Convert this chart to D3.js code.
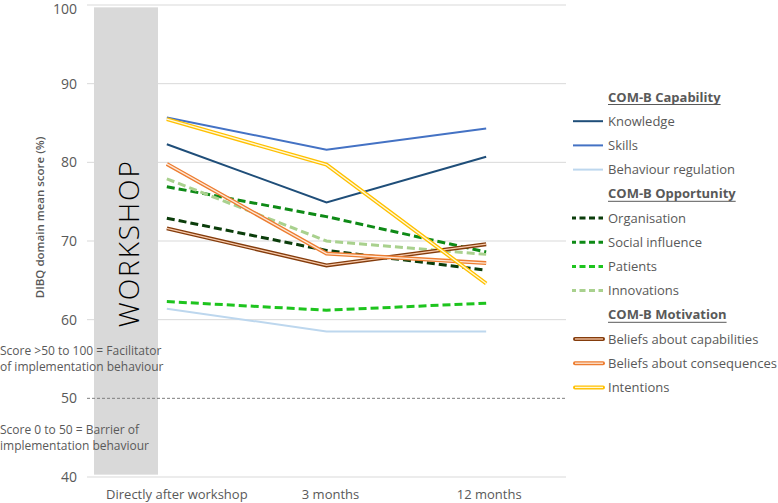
<!DOCTYPE html>
<html><head><meta charset="utf-8">
<script src="https://cdn.jsdelivr.net/npm/d3@7"></script>
<style>body{margin:0;background:#fff;} text{font-family:"Open Sans","Liberation Sans",sans-serif;}</style>
</head><body>
<svg id="chart" width="778" height="503"></svg>
<script>
const categories = ["Directly after workshop", "3 months", "12 months"];
const yTicks = [40, 50, 60, 70, 80, 90, 100];
const groupTitles = ["COM-B Capability", "COM-B Opportunity", "COM-B Motivation"];
const knowledge = [82.3, 74.9, 80.7];
const skills = [85.7, 81.6, 84.3];
const behaviourRegulation = [61.4, 58.5, 58.5];
const organisation = [72.9, 68.8, 66.3];
const socialInfluence = [76.9, 73.1, 68.6];
const patients = [62.3, 61.2, 62.1];
const innovations = [77.9, 70.0, 68.3];
const beliefsCapabilities = [71.6, 66.9, 69.6];
const beliefsConsequences = [79.8, 68.4, 67.2];
const intentions = [85.5, 79.7, 64.6];

(function () {
const series = [
  {group:0, name:"Knowledge", values:knowledge, color:"#1f4e79", type:"solid"},
  {group:0, name:"Skills", values:skills, color:"#4472c4", type:"solid"},
  {group:0, name:"Behaviour regulation", values:behaviourRegulation, color:"#bdd7ee", type:"solid"},
  {group:1, name:"Organisation", values:organisation, color:"#0b3d0b", type:"dash"},
  {group:1, name:"Social influence", values:socialInfluence, color:"#0e8a16", type:"dash"},
  {group:1, name:"Patients", values:patients, color:"#1ec41e", type:"dash"},
  {group:1, name:"Innovations", values:innovations, color:"#a9d18e", type:"dash"},
  {group:2, name:"Beliefs about capabilities", values:beliefsCapabilities, color:"#843c0c", inner:"#f8cbad", type:"double"},
  {group:2, name:"Beliefs about consequences", values:beliefsConsequences, color:"#ed7d31", inner:"#fde9d9", type:"double"},
  {group:2, name:"Intentions", values:intentions, color:"#ffc000", inner:"#fff8dc", type:"double"}
];

const svg = d3.select("#chart");
const pL = 87, pR = 566, pT = 5, pB = 477;
const x = d3.scaleBand().domain(categories).range([pL, pR]);
const y = d3.scaleLinear().domain([40, 100]).range([pB, pT]);
const grey = "#595959";

// gridlines
svg.append("g").selectAll("line").data(yTicks.filter(t => t !== 50)).join("line")
  .attr("x1", pL).attr("x2", pR).attr("y1", d => y(d)).attr("y2", d => y(d))
  .attr("stroke", "#d9d9d9").attr("stroke-width", 1);

// workshop box
svg.append("rect").attr("x", 94).attr("y", y(99.7)).attr("width", 64).attr("height", y(40.3) - y(99.7))
  .attr("fill", "#d9d9d9");
svg.append("text").attr("transform", `translate(138.5,${y(69.6)}) rotate(-90)`)
  .attr("text-anchor", "middle").attr("font-size", 28).attr("font-weight", 300).attr("fill", "#000")
  .attr("textLength", 166).attr("lengthAdjust", "spacing")
  .text("WORKSHOP");

// 50 reference line
svg.append("line").attr("x1", pL).attr("x2", pR).attr("y1", y(50)).attr("y2", y(50))
  .attr("stroke", "#7f7f7f").attr("stroke-width", 1).attr("stroke-dasharray", "3,2");

// y axis labels
const yAxis = d3.axisLeft(y).tickValues(yTicks).tickSize(0).tickPadding(10);
const ga = svg.append("g").attr("transform", `translate(${pL},0)`).call(yAxis);
ga.select(".domain").remove();
ga.selectAll("text").attr("font-size", 14).attr("fill", grey).attr("font-family", "'Open Sans',sans-serif")
  .attr("dy", d => d === 100 ? "0.62em" : "0.32em");

// x axis labels
const labelShift = [10, 4, 3];
const xAxis = d3.axisBottom(x).tickSize(0).tickPadding(13);
const gx = svg.append("g").attr("transform", `translate(0,${pB})`).call(xAxis);
gx.select(".domain").remove();
gx.selectAll("text").attr("font-size", 13).attr("fill", grey).attr("font-family", "'Open Sans',sans-serif")
  .attr("dx", (d, i) => labelShift[i]);

// y title
svg.append("text").attr("transform", `translate(44,${y(73)}) rotate(-90)`)
  .attr("text-anchor", "middle").attr("font-size", 11.5).attr("font-weight", 600).attr("fill", grey)
  .text("DIBQ domain mean score (%)");

// annotations
const ann = [["Score >50 to 100 = Facilitator", 355], ["of implementation behaviour", 371],
             ["Score 0 to 50 = Barrier of", 434], ["implementation behaviour", 450]];
svg.append("g").selectAll("text").data(ann).join("text")
  .attr("x", 0).attr("y", d => d[1]).attr("font-size", 12).attr("fill", grey).text(d => d[0]);

// lines
const line = d3.line().x((d, i) => x(categories[i]) + x.bandwidth() / 2).y(d => y(d));
const gl = svg.append("g");
series.forEach(s => {
  if (s.type === "solid") {
    gl.append("path").attr("d", line(s.values)).attr("fill", "none").attr("stroke", s.color).attr("stroke-width", 2);
  } else if (s.type === "dash") {
    gl.append("path").attr("d", line(s.values)).attr("fill", "none").attr("stroke", s.color)
      .attr("stroke-width", 3).attr("stroke-dasharray", "8,4");
  } else {
    gl.append("path").attr("d", line(s.values)).attr("fill", "none").attr("stroke", s.color).attr("stroke-width", 4);
    gl.append("path").attr("d", line(s.values)).attr("fill", "none").attr("stroke", s.inner).attr("stroke-width", 1.3);
  }
});

// legend
const lg = svg.append("g");
let ly = 97;
const step = 24.2;
[0, 1, 2].forEach(g => {
  const t = lg.append("text").attr("x", 608).attr("y", ly + 4.5).attr("font-size", 13).attr("font-weight", 700)
    .attr("fill", grey).text(groupTitles[g]);
  const w = t.node().getComputedTextLength();
  lg.append("line").attr("x1", 608).attr("x2", 608 + w).attr("y1", ly + 7.5).attr("y2", ly + 7.5)
    .attr("stroke", grey).attr("stroke-width", 1);
  ly += step;
  series.filter(s => s.group === g).forEach(s => {
    if (s.type === "solid") {
      lg.append("line").attr("x1", 573).attr("x2", 603).attr("y1", ly).attr("y2", ly).attr("stroke", s.color).attr("stroke-width", 2);
    } else if (s.type === "dash") {
      lg.append("line").attr("x1", 572).attr("x2", 603).attr("y1", ly).attr("y2", ly).attr("stroke", s.color)
        .attr("stroke-width", 3).attr("stroke-dasharray", "6,3.5").attr("stroke-dashoffset", 2);
    } else {
      lg.append("line").attr("x1", 575).attr("x2", 603).attr("y1", ly).attr("y2", ly).attr("stroke", s.color)
        .attr("stroke-width", 4).attr("stroke-linecap", "round");
      lg.append("line").attr("x1", 575).attr("x2", 603).attr("y1", ly).attr("y2", ly).attr("stroke", s.inner).attr("stroke-width", 1.3);
    }
    lg.append("text").attr("x", 608).attr("y", ly + 4.5).attr("font-size", 13).attr("fill", grey).text(s.name);
    ly += step;
  });
});
})();
</script>
</body></html>
